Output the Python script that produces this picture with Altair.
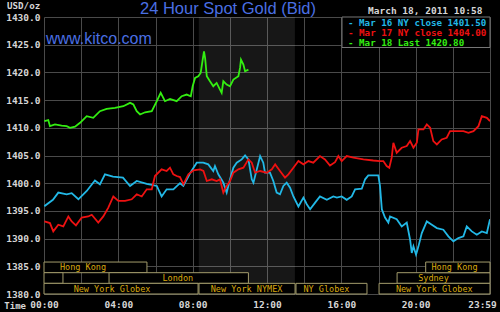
import altair as alt
import pandas as pd

# ---- series (hour of day, price) ----
blue_h = [0.02, 0.48, 0.77, 1.22, 1.49, 1.85, 2.30, 2.74, 3.01, 3.28, 3.71, 4.25, 4.63, 4.99, 5.53, 6.07, 6.33, 6.60, 6.96,
          7.32, 7.50, 7.86, 8.22, 8.57, 8.84, 9.11, 9.20, 9.38, 9.65, 9.83, 10.01, 10.19, 10.37, 10.64, 10.82, 11.00, 11.18,
          11.27, 11.45, 11.63, 11.80, 11.89, 12.16, 12.34, 12.52, 12.70, 12.88, 13.06, 13.24, 13.42, 13.69, 13.96, 14.14,
          14.32, 14.59, 14.85, 15.22, 15.57, 15.76, 16.02, 16.29, 16.56, 16.74, 17.10, 17.28, 17.45, 17.99, 18.08, 18.18,
          18.35, 18.53, 18.62, 18.98, 19.25, 19.52, 19.70, 19.79, 19.88, 20.02, 20.15, 20.33, 20.60, 20.87, 21.14, 21.49,
          21.76, 22.03, 22.30, 22.57, 22.75, 23.02, 23.29, 23.56, 23.83, 24.0]
blue_p = [1395.85, 1397.0, 1398.3, 1398.0, 1398.2, 1397.1, 1398.6, 1400.5, 1399.8, 1401.6, 1401.2, 1401.0, 1399.5, 1400.4,
          1399.9, 1399.5, 1397.6, 1398.9, 1398.9, 1400.0, 1399.5, 1401.8, 1403.7, 1403.7, 1403.4, 1402.2, 1403.1, 1401.6,
          1400.1, 1398.3, 1400.7, 1402.8, 1403.7, 1404.3, 1405.0, 1404.3, 1400.7, 1400.1, 1402.5, 1404.9, 1403.7, 1401.9,
          1401.9, 1400.4, 1398.3, 1398.0, 1399.5, 1400.1, 1399.2, 1397.6, 1395.8, 1397.4, 1396.2, 1395.3, 1396.5, 1397.6,
          1397.0, 1397.6, 1397.4, 1397.6, 1397.0, 1397.6, 1398.9, 1399.0, 1400.7, 1401.4, 1401.4, 1399.5, 1395.3, 1393.8,
          1392.9, 1394.0, 1393.5, 1392.2, 1392.9, 1389.8, 1387.4, 1388.6, 1387.1, 1388.6, 1391.0, 1393.1, 1392.5, 1391.9,
          1391.6, 1390.4, 1389.5, 1390.1, 1390.4, 1392.2, 1391.3, 1390.7, 1391.3, 1391.0, 1393.5]

red_h = [0.02, 0.32, 0.50, 0.77, 1.04, 1.31, 1.49, 1.72, 2.03, 2.38, 2.57, 2.92, 3.19, 3.46, 3.73, 4.00, 4.36, 4.72, 4.99,
         5.26, 5.53, 5.80, 5.97, 6.33, 6.60, 6.78, 6.96, 7.14, 7.32, 7.50, 7.77, 8.04, 8.40, 8.58, 8.76, 9.03, 9.29, 9.47,
         9.65, 9.83, 10.01, 10.19, 10.46, 10.73, 11.00, 11.18, 11.36, 11.63, 11.99, 12.26, 12.44, 12.70, 12.97, 13.15,
         13.42, 13.69, 13.96, 14.23, 14.49, 14.85, 15.12, 15.39, 15.66, 15.84, 16.02, 16.29, 16.65, 17.19, 17.72, 18.08,
         18.26, 18.44, 18.58, 18.71, 18.80, 18.98, 19.25, 19.52, 19.70, 19.88, 20.06, 20.15, 20.42, 20.60, 20.78, 20.95,
         21.14, 21.40, 21.67, 21.85, 22.21, 22.57, 22.84, 23.11, 23.38, 23.56, 23.83, 24.0]
red_p = [1393.1, 1392.8, 1391.3, 1392.5, 1392.2, 1394.0, 1393.1, 1392.4, 1393.8, 1394.0, 1394.3, 1392.9, 1394.0, 1395.6,
         1397.6, 1396.8, 1396.8, 1397.1, 1398.0, 1397.6, 1398.9, 1398.9, 1401.3, 1402.5, 1402.2, 1402.8, 1401.6, 1401.3,
         1401.1, 1399.8, 1401.6, 1402.3, 1402.5, 1402.2, 1400.4, 1400.7, 1400.4, 1400.7, 1398.3, 1399.5, 1400.4, 1401.9,
         1402.5, 1402.8, 1404.3, 1403.7, 1401.9, 1402.2, 1401.9, 1402.5, 1403.4, 1402.2, 1401.0, 1401.6, 1402.8, 1404.0,
         1403.4, 1404.0, 1403.7, 1404.9, 1404.3, 1403.2, 1403.8, 1404.9, 1404.0, 1404.9, 1404.6, 1404.3, 1404.1, 1404.0,
         1404.0, 1403.1, 1402.8, 1404.6, 1407.3, 1405.5, 1406.4, 1406.7, 1407.6, 1406.4, 1407.3, 1409.7, 1409.7, 1410.6,
         1410.0, 1407.6, 1407.0, 1407.9, 1408.2, 1409.4, 1409.4, 1409.4, 1409.1, 1409.4, 1410.3, 1412.1, 1411.8, 1411.2]

green_h = [0.02, 0.23, 0.32, 0.59, 0.95, 1.22, 1.40, 1.67, 1.94, 2.30, 2.65, 3.01, 3.37, 3.82, 4.27, 4.63, 4.81, 4.99, 5.17,
           5.44, 5.80, 6.07, 6.28, 6.51, 6.78, 7.14, 7.41, 7.68, 7.90, 8.00, 8.13, 8.30, 8.43, 8.54, 8.61, 8.67, 8.76, 8.93,
           9.11, 9.29, 9.47, 9.56, 9.65, 9.83, 10.01, 10.19, 10.46, 10.55, 10.60, 10.73, 10.82, 11.00]
green_p = [1411.2, 1411.4, 1410.3, 1410.6, 1410.4, 1410.3, 1410.0, 1410.2, 1410.9, 1412.1, 1411.8, 1413.0, 1413.4, 1413.6,
           1413.9, 1414.5, 1414.2, 1413.0, 1412.4, 1412.8, 1413.0, 1414.8, 1416.3, 1414.8, 1415.2, 1414.8, 1415.7, 1416.0,
           1415.7, 1417.5, 1419.0, 1419.3, 1419.9, 1422.3, 1423.8, 1422.6, 1419.3, 1418.4, 1417.5, 1418.1, 1416.9, 1416.3,
           1418.4, 1417.8, 1417.5, 1418.7, 1419.3, 1420.8, 1422.3, 1421.4, 1420.2, 1420.5]

series_names = ["Mar 16", "Mar 17", "Mar 18"]
series_colors = ["#22b8e6", "#ee1111", "#33ee11"]
legend_texts = ["- Mar 16 NY close 1401.50", "- Mar 17 NY close 1404.00", "- Mar 18 Last 1420.80"]

# ---- trading sessions ----
sess_name = ["Hong Kong", "", "London", "New York Globex", "New York NYMEX", "NY Globex", "Sydney", "Hong Kong", "New York Globex"]
sess_start = [0.0, 0.0, 3.5, 0.0, 8.34, 13.56, 19.0, 20.54, 18.03]
sess_end = [5.54, 1.02, 11.0, 8.29, 13.51, 17.38, 24.0, 24.0, 24.0]
sess_row = [2, 1, 1, 0, 0, 0, 1, 2, 0]
sess_label_at = [2.1, 0.5, 7.2, 3.66, 10.9, 15.2, 20.96, 22.09, 21.0]

nymex_start = [8.33]
nymex_end = [13.5]

x_ticks = list(range(0, 25, 2))
y_ticks = list(range(1380, 1431, 5))

# ---- build tables ----
lines_df = pd.concat([
    pd.DataFrame({"hour": blue_h, "price": blue_p, "series": series_names[0]}),
    pd.DataFrame({"hour": red_h, "price": red_p, "series": series_names[1]}),
    pd.DataFrame({"hour": green_h, "price": green_p, "series": series_names[2]}),
], ignore_index=True)

sess_df = pd.DataFrame({"name": sess_name, "start": sess_start, "end": sess_end,
                        "row": sess_row, "label_at": sess_label_at})
sess_df["row_top"] = sess_df["row"] + 1
sess_df["row_mid"] = sess_df["row"] + 0.5

band_df = pd.DataFrame({"start": nymex_start, "end": nymex_end})
one = pd.DataFrame({"k": [0]})

LABEL_COLOR = "#d6d6d6"
MONO = "DejaVu Sans Mono"

x_scale = alt.Scale(domain=[0, 24], nice=False, zero=False)
y_scale = alt.Scale(domain=[1380, 1430], nice=False, zero=False)
row_scale = alt.Scale(domain=[0, 26], nice=False, zero=False)

x_axis = alt.Axis(
    values=x_ticks,
    labelExpr="datum.value % 4 != 0 ? '' : (datum.value == 24 ? '23:59' : ((datum.value < 10 ? '0' : '') + datum.value + ':00'))",
    grid=True, gridColor="#4a4a4a", gridWidth=1, ticks=False, domain=False,
    labelColor=LABEL_COLOR, labelFont=MONO, labelFontSize=9.5, labelFontWeight="bold",
    labelPadding=5, labelFlush=False, labelOverlap=False, title=None,
    labelOffset={"condition": {"test": "datum.value == 24", "value": -8}, "value": 0},
)
y_axis = alt.Axis(
    values=y_ticks, format=".1f",
    grid=True, gridColor="#4a4a4a", gridWidth=1, ticks=False, domain=False,
    labelColor=LABEL_COLOR, labelFont=MONO, labelFontSize=9.5, labelFontWeight="bold",
    labelPadding=4, labelOverlap=False, title=None,
)

band = alt.Chart(band_df).mark_rect(fill="white", opacity=0.09).encode(
    x=alt.X("start:Q", scale=x_scale, axis=x_axis),
    x2="end:Q",
)

lines = alt.Chart(lines_df).mark_line(strokeWidth=1.8, clip=True).encode(
    x=alt.X("hour:Q", scale=x_scale, axis=x_axis),
    y=alt.Y("price:Q", scale=y_scale, axis=y_axis),
    color=alt.Color("series:N", scale=alt.Scale(domain=series_names, range=series_colors), legend=None),
    detail="series:N",
)

sess_boxes = alt.Chart(sess_df).mark_rect(fill="black", stroke="#a39c6c", strokeWidth=1).encode(
    x=alt.X("start:Q", scale=x_scale, axis=x_axis),
    x2="end:Q",
    y=alt.Y("row:Q", scale=row_scale, axis=None),
    y2="row_top:Q",
)
sess_text = alt.Chart(sess_df).mark_text(
    font=MONO, fontSize=8.5, color="#d9a90f", align="center", baseline="middle"
).encode(
    x=alt.X("label_at:Q", scale=x_scale, axis=x_axis),
    y=alt.Y("row_mid:Q", scale=row_scale, axis=None),
    text="name:N",
)

legend_box = alt.Chart(one).mark_rect(fill="black", stroke="#777777", strokeWidth=1).encode(
    x=alt.value(298), x2=alt.value(446), y=alt.value(0), y2=alt.value(30.5)
)
legend_layers = []
for i, (t, c) in enumerate(zip(legend_texts, series_colors)):
    legend_layers.append(
        alt.Chart(one).mark_text(text=t, font=MONO, fontSize=9.2, fontWeight="bold", color=c,
                                 align="left", baseline="middle")
        .encode(x=alt.value(304), y=alt.value(5.5 + 10 * i))
    )

title_txt = alt.Chart(one).mark_text(
    text="24 Hour Spot Gold (Bid)", font="Liberation Sans", fontSize=16.5, color="#4a6fe3",
    align="center", baseline="middle").encode(x=alt.value(184), y=alt.value(-8.3))
kitco_txt = alt.Chart(one).mark_text(
    text="www.kitco.com", font="Liberation Sans", fontSize=16, color="#4a6fe3",
    align="left", baseline="middle").encode(x=alt.value(2), y=alt.value(21.5))
unit_txt = alt.Chart(one).mark_text(
    text="USD/oz", font=MONO, fontSize=9.2, fontWeight="bold", color=LABEL_COLOR,
    align="left", baseline="middle").encode(x=alt.value(-37), y=alt.value(-11))
date_txt = alt.Chart(one).mark_text(
    text="March 18, 2011 10:58", font=MONO, fontSize=9.5, fontWeight="bold", color=LABEL_COLOR,
    align="left", baseline="middle").encode(x=alt.value(324), y=alt.value(-5.8))
time_txt = alt.Chart(one).mark_text(
    text="NY Time", font=MONO, fontSize=9, fontWeight="bold", color=LABEL_COLOR,
    align="right", baseline="middle").encode(x=alt.value(-18), y=alt.value(288.5))

chart = alt.layer(
    band, lines, sess_boxes, sess_text, legend_box, *legend_layers,
    title_txt, kitco_txt, unit_txt, date_txt, time_txt,
).resolve_scale(y="independent").properties(
    width=446, height=277,
    autosize=alt.AutoSizeParams(type="none"),
    padding={"left": 44, "top": 17, "right": 10, "bottom": 18},
    background="black",
).configure_view(stroke=None)

chart.save("out.html", embed_options={"renderer": "svg", "actions": False})
